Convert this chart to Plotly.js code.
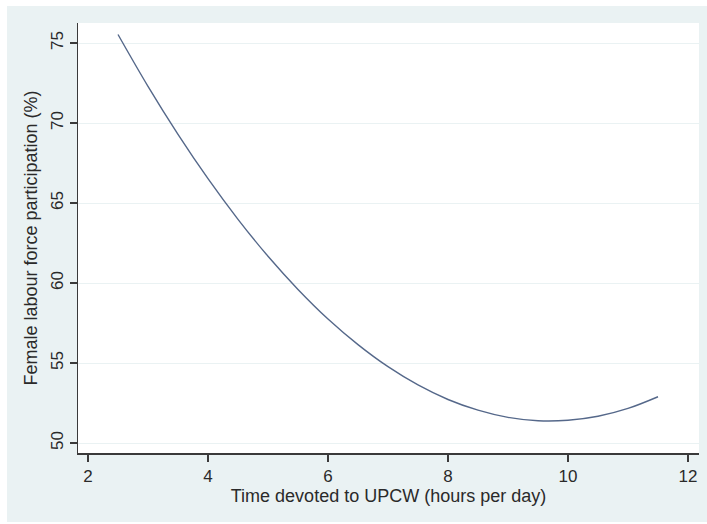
<!DOCTYPE html>
<html>
<head>
<meta charset="utf-8">
<script src="https://cdn.plot.ly/plotly-3.0.1.min.js"></script>
<style>
  html, body { margin: 0; padding: 0; background: #ffffff; width: 707px; height: 524px; overflow: hidden; }
  #chart { position: absolute; left: 7px; top: 6px; width: 700px; height: 516px; }
</style>
</head>
<body>
<div id="chart"></div>
<script>
// Hours per day devoted to unpaid care work
const hoursUPCW = [2.5, 3.0, 3.5, 4.0, 4.5, 5.0, 5.5, 6.0, 6.5, 7.0, 7.5, 8.0, 8.5, 9.0, 9.5, 10.0, 10.5, 11.0, 11.5];
// Female labour force participation (%)
const flfp = [75.53, 72.29, 69.29, 66.52, 63.98, 61.67, 59.60, 57.75, 56.15, 54.77, 53.63, 52.72, 52.05, 51.60, 51.39, 51.42, 51.67, 52.16, 52.89];

const xTicks = [2, 4, 6, 8, 10, 12];
const yTicks = [50, 55, 60, 65, 70, 75];

const trace = {
  x: hoursUPCW,
  y: flfp,
  type: 'scatter',
  mode: 'lines',
  line: { color: '#55688a', width: 1.4, shape: 'spline', smoothing: 1 },
  hoverinfo: 'x+y'
};

const fontFamily = '"Liberation Sans", Arial, sans-serif';

const layout = {
  width: 700,
  height: 516,
  margin: { l: 71, r: 8, t: 17, b: 69, pad: 0 },
  paper_bgcolor: '#eaf2f3',
  plot_bgcolor: '#ffffff',
  showlegend: false,
  font: { family: fontFamily, color: '#2a2a2a', size: 17 },
  xaxis: {
    range: [1.8333, 12.1833],
    tickmode: 'array',
    tickvals: xTicks,
    ticktext: xTicks.map(String),
    ticks: 'outside',
    ticklen: 7,
    tickwidth: 1.4,
    tickcolor: '#3a3a3a',
    showline: true,
    linecolor: '#3a3a3a',
    linewidth: 1.5,
    showgrid: false,
    zeroline: false,
    tickfont: { family: fontFamily, size: 17, color: '#2a2a2a' },
    title: { text: 'Time devoted to UPCW (hours per day)', font: { family: fontFamily, size: 18, color: '#2a2a2a' }, standoff: 3 }
  },
  yaxis: {
    range: [49.375, 76.25],
    tickmode: 'array',
    tickvals: yTicks,
    ticktext: yTicks.map(String),
    tickangle: -90,
    ticks: 'outside',
    ticklen: 7,
    tickwidth: 1.4,
    tickcolor: '#3a3a3a',
    showline: true,
    linecolor: '#3a3a3a',
    linewidth: 1.5,
    showgrid: true,
    gridcolor: '#eaf2f3',
    gridwidth: 1,
    zeroline: false,
    tickfont: { family: fontFamily, size: 17, color: '#2a2a2a' },
    title: { text: 'Female labour force participation (%)', font: { family: fontFamily, size: 18, color: '#2a2a2a' }, standoff: 5 }
  }
};

Plotly.newPlot('chart', [trace], layout, { displayModeBar: false, staticPlot: true });
</script>
</body>
</html>
